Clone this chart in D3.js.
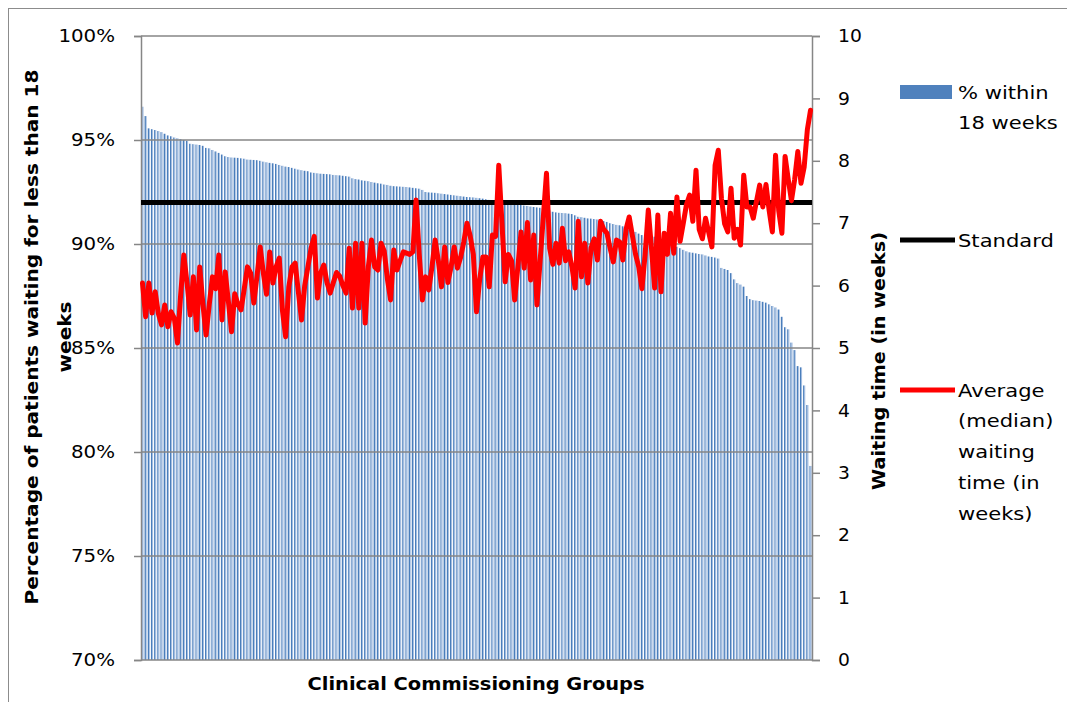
<!DOCTYPE html>
<html>
<head>
<meta charset="utf-8">
<script src="https://cdn.jsdelivr.net/npm/d3@7"></script>
<style>
  html, body { margin: 0; padding: 0; background: #fff; }
  svg { display: block; }
  text { font-family: "DejaVu Sans", Verdana, sans-serif; fill: #000; }
  .bold { font-weight: bold; }
</style>
</head>
<body>
<svg id="chart" width="1067" height="702"></svg>
<script>
// % of patients waiting under 18 weeks, one value per CCG, sorted high to low
const pctWithin18 = [
  96.6, 96.15, 95.56, 95.52, 95.48, 95.43, 95.38, 95.3, 95.22, 95.18,
  95.12, 95.08, 95.04, 95.0, 94.96, 94.82, 94.8, 94.78, 94.76, 94.72,
  94.62, 94.6, 94.52, 94.45, 94.38, 94.3, 94.22, 94.18, 94.16, 94.15,
  94.14, 94.12, 94.1, 94.06, 94.05, 94.04, 94.03, 94.0, 93.96, 93.93,
  93.9, 93.88, 93.85, 93.8, 93.76, 93.72, 93.7, 93.66, 93.62, 93.58,
  93.55, 93.52, 93.5, 93.44, 93.42, 93.4, 93.38, 93.37, 93.36, 93.35,
  93.32, 93.31, 93.3, 93.28, 93.26, 93.24, 93.16, 93.12, 93.1, 93.06,
  93.04, 93.02, 92.98, 92.95, 92.92, 92.9, 92.86, 92.84, 92.8, 92.78,
  92.77, 92.76, 92.75, 92.74, 92.72, 92.7, 92.68, 92.66, 92.6, 92.5,
  92.48, 92.47, 92.46, 92.44, 92.42, 92.4, 92.38, 92.36, 92.34, 92.32,
  92.3, 92.28, 92.26, 92.25, 92.24, 92.22, 92.2, 92.18, 92.15, 92.12,
  92.1, 92.07, 92.04, 92.02, 92.0, 91.98, 91.96, 91.94, 91.92, 91.9,
  91.85, 91.83, 91.8, 91.78, 91.76, 91.74, 91.72, 91.7, 91.62, 91.55,
  91.52, 91.5, 91.49, 91.48, 91.46, 91.44, 91.38, 91.31, 91.29, 91.26,
  91.23, 91.22, 91.2, 91.18, 91.15, 91.1, 91.06, 91.0, 90.96, 90.92,
  90.9, 90.85, 90.78, 90.7, 90.62, 90.58, 90.5, 90.43, 90.42, 90.38,
  90.36, 90.35, 90.3, 90.22, 90.12, 90.05, 89.98, 89.92, 89.87, 89.8,
  89.72, 89.65, 89.6, 89.58, 89.55, 89.52, 89.5, 89.45, 89.4, 89.38,
  89.35, 89.3, 88.85, 88.8, 88.75, 88.6, 88.3, 88.12, 88.05, 87.95,
  87.5, 87.35, 87.3, 87.28, 87.26, 87.22, 87.18, 87.1, 87.02, 86.95,
  86.85, 86.5, 86.0, 85.9, 85.26, 84.9, 84.13, 84.07, 83.2, 82.26, 79.33
];

// Median waiting time in weeks for the same CCGs, in the same order
const medianWaitWeeks = [
  6.04, 5.5, 6.04, 5.56, 5.9, 5.55, 5.37, 5.69, 5.34, 5.58,
  5.48, 5.08, 5.85, 6.49, 6.05, 5.53, 6.14, 5.29, 6.3, 5.7,
  5.21, 5.7, 6.14, 5.95, 6.49, 5.45, 6.22, 5.75, 5.26, 5.87,
  5.7, 5.61, 5.95, 6.3, 6.2, 5.72, 6.15, 6.62, 6.2, 5.86,
  6.54, 6.04, 6.3, 6.44, 5.6, 5.18, 5.98, 6.3, 6.36, 5.9,
  5.45, 6.0, 6.3, 6.6, 6.79, 5.8, 6.2, 6.33, 6.05, 5.88,
  6.05, 6.21, 6.15, 6.0, 5.88, 6.6, 5.64, 6.68, 5.64, 6.68,
  5.4, 6.3, 6.73, 6.3, 6.25, 6.68, 6.55, 6.1, 5.77, 6.57,
  6.25, 6.4, 6.54, 6.52, 6.5, 6.54, 7.37, 6.5, 5.77, 6.14,
  5.93, 6.3, 6.73, 6.4, 5.98, 6.62, 6.05, 6.3, 6.62, 6.28,
  6.45, 6.7, 7.0, 6.8, 6.5, 5.58, 6.1, 6.46, 6.46, 5.98,
  6.81, 6.79, 7.93, 7.0, 6.06, 6.5, 6.4, 5.77, 6.3, 6.86,
  6.28, 7.01, 6.09, 6.81, 5.69, 6.4, 7.1, 7.8, 6.6, 6.34,
  6.68, 6.36, 6.92, 6.4, 6.54, 6.3, 5.96, 7.03, 6.14, 6.68,
  6.04, 6.6, 6.75, 6.41, 7.03, 6.9, 6.84, 6.6, 6.38, 6.73,
  6.7, 6.41, 6.9, 7.1, 6.8, 6.5, 6.3, 5.95, 6.5, 7.21,
  6.6, 5.96, 7.13, 5.9, 6.84, 6.5, 7.16, 6.52, 7.42, 6.71,
  7.0, 7.3, 7.45, 7.03, 7.85, 6.9, 6.75, 7.08, 6.85, 6.62,
  7.93, 8.17, 7.4, 6.99, 6.86, 7.56, 6.76, 6.9, 6.65, 7.77,
  7.26, 7.26, 7.08, 7.35, 7.61, 7.26, 7.62, 7.2, 6.86, 8.09,
  7.2, 6.84, 8.07, 7.7, 7.36, 7.7, 8.15, 7.64, 7.9, 8.5, 8.81
];

// One category per Clinical Commissioning Group (unlabelled on the axis)
const ccgs = pctWithin18.map((_, i) => i + 1);

// 18-week referral-to-treatment standard, on the percentage axis
const standardPct = 92;

const pctTicks = [70, 75, 80, 85, 90, 95, 100];
const weekTicks = [0, 1, 2, 3, 4, 5, 6, 7, 8, 9, 10];

const seriesNames = ["% within\n18 weeks", "Standard", "Average\n(median)\nwaiting\ntime (in\nweeks)"];

const svg = d3.select("#chart");
const plot = { left: 141, right: 812, top: 36, bottom: 660 };
const gridColor = "#868686";

// Stretch a text element horizontally by a factor, keeping its anchor
function widen(sel, factor) {
  sel.each(function () {
    const len = this.getComputedTextLength();
    d3.select(this).attr("textLength", len * factor).attr("lengthAdjust", "spacingAndGlyphs");
  });
}

// Outer chart border
svg.append("rect")
  .attr("x", 8.5).attr("y", 8.5)
  .attr("width", 1067).attr("height", 702)
  .attr("fill", "none").attr("stroke", "#8c8c8c").attr("stroke-width", 1);

const x = d3.scaleBand().domain(ccgs).range([plot.left, plot.right])
  .paddingInner(0.32).paddingOuter(0.12);
const yPct = d3.scaleLinear().domain([70, 100]).range([plot.bottom, plot.top]);
const yWeeks = d3.scaleLinear().domain([0, 10]).range([plot.bottom, plot.top]);

// Bar shading: darker blue edge on the left, lighter fill on the right
const defs = svg.append("defs");
const grad = defs.append("linearGradient").attr("id", "barFill")
  .attr("x1", 0).attr("x2", 1).attr("y1", 0).attr("y2", 0);
grad.append("stop").attr("offset", 0).attr("stop-color", "#4a7ebb");
grad.append("stop").attr("offset", 0.42).attr("stop-color", "#4a7ebb");
grad.append("stop").attr("offset", 0.48).attr("stop-color", "#a3bde0");
grad.append("stop").attr("offset", 1).attr("stop-color", "#a3bde0");

// Bars
svg.append("g").selectAll("rect")
  .data(ccgs)
  .join("rect")
  .attr("x", d => x(d))
  .attr("width", x.bandwidth())
  .attr("y", (d, i) => yPct(pctWithin18[i]))
  .attr("height", (d, i) => yPct(70) - yPct(pctWithin18[i]))
  .attr("fill", "url(#barFill)");

// Horizontal gridlines at each percentage tick
svg.append("g").selectAll("line")
  .data(pctTicks)
  .join("line")
  .attr("x1", plot.left).attr("x2", plot.right)
  .attr("y1", d => yPct(d)).attr("y2", d => yPct(d))
  .attr("stroke", gridColor).attr("stroke-width", 1.5);

// Left axis (percentage)
const leftAxis = svg.append("g")
  .attr("transform", `translate(${plot.left},0)`)
  .call(d3.axisLeft(yPct).tickValues(pctTicks).tickFormat(d => d + "%")
    .tickSize(7).tickPadding(19));

// Right axis (weeks)
const rightAxis = svg.append("g")
  .attr("transform", `translate(${plot.right},0)`)
  .call(d3.axisRight(yWeeks).tickValues(weekTicks).tickFormat(d3.format("d"))
    .tickSize(8).tickPadding(18));

[leftAxis, rightAxis].forEach(g => {
  g.select(".domain").attr("stroke", gridColor).attr("stroke-width", 1.5);
  g.selectAll(".tick line").attr("stroke", gridColor).attr("stroke-width", 1.5);
  g.selectAll(".tick text")
    .attr("font-family", "DejaVu Sans, Verdana, sans-serif")
    .attr("font-size", 18).attr("fill", "#000");
});
widen(leftAxis.selectAll(".tick text"), 1.1);
widen(rightAxis.selectAll(".tick text"), 1.04);

// Standard line across the whole plot
svg.append("path")
  .datum([ccgs[0], ccgs[ccgs.length - 1]])
  .attr("d", d3.line()
    .x((d, i) => i === 0 ? plot.left : plot.right)
    .y(() => yPct(standardPct)))
  .attr("fill", "none").attr("stroke", "#000").attr("stroke-width", 5);

// Median waiting time line
const waitLine = d3.line()
  .x(d => x(d) + x.bandwidth() / 2)
  .y((d, i) => yWeeks(medianWaitWeeks[i]));
svg.append("path")
  .datum(ccgs)
  .attr("d", waitLine)
  .attr("fill", "none").attr("stroke", "#ff0000").attr("stroke-width", 5)
  .attr("stroke-linejoin", "round").attr("stroke-linecap", "round");

// Axis titles
svg.append("text").attr("class", "bold")
  .attr("x", 476).attr("y", 690).attr("text-anchor", "middle")
  .attr("font-size", 18).attr("textLength", 337).attr("lengthAdjust", "spacingAndGlyphs")
  .text("Clinical Commissioning Groups");

const leftTitle = svg.append("g").attr("transform", "translate(0,337) rotate(-90)");
const titleLine1 = leftTitle.append("text").attr("class", "bold")
  .attr("x", 0).attr("y", 38).attr("text-anchor", "middle")
  .attr("font-size", 18)
  .text("Percentage of patients waiting for less than 18");
const titleScale = 535 / titleLine1.node().getComputedTextLength();
titleLine1.attr("textLength", 535).attr("lengthAdjust", "spacingAndGlyphs");
const titleLine2 = leftTitle.append("text").attr("class", "bold")
  .attr("x", 0).attr("y", 71).attr("text-anchor", "middle")
  .attr("font-size", 18)
  .text("weeks");
widen(titleLine2, titleScale);

svg.append("text").attr("class", "bold")
  .attr("transform", "translate(885,361) rotate(-90)")
  .attr("text-anchor", "middle")
  .attr("font-size", 18).attr("textLength", 258).attr("lengthAdjust", "spacingAndGlyphs")
  .text("Waiting time (in weeks)");

// Legend
const legend = svg.append("g");
const legendRows = [
  { y: 92, kind: "bar" },
  { y: 240, kind: "standard" },
  { y: 390, kind: "wait" }
];
legendRows.forEach((row, k) => {
  if (row.kind === "bar") {
    legend.append("rect").attr("x", 900).attr("y", row.y - 7)
      .attr("width", 52).attr("height", 14).attr("fill", "#4f81bd");
  } else {
    legend.append("line").attr("x1", 900).attr("x2", 955)
      .attr("y1", row.y).attr("y2", row.y)
      .attr("stroke", row.kind === "standard" ? "#000" : "#ff0000")
      .attr("stroke-width", 5);
  }
  seriesNames[k].split("\n").forEach((ln, j) => {
    const t = legend.append("text")
      .attr("x", 958).attr("y", row.y + 6.5 + j * 30.8)
      .attr("font-size", 18)
      .text(ln);
    widen(t, 1.17);
  });
});
</script>
</body>
</html>
